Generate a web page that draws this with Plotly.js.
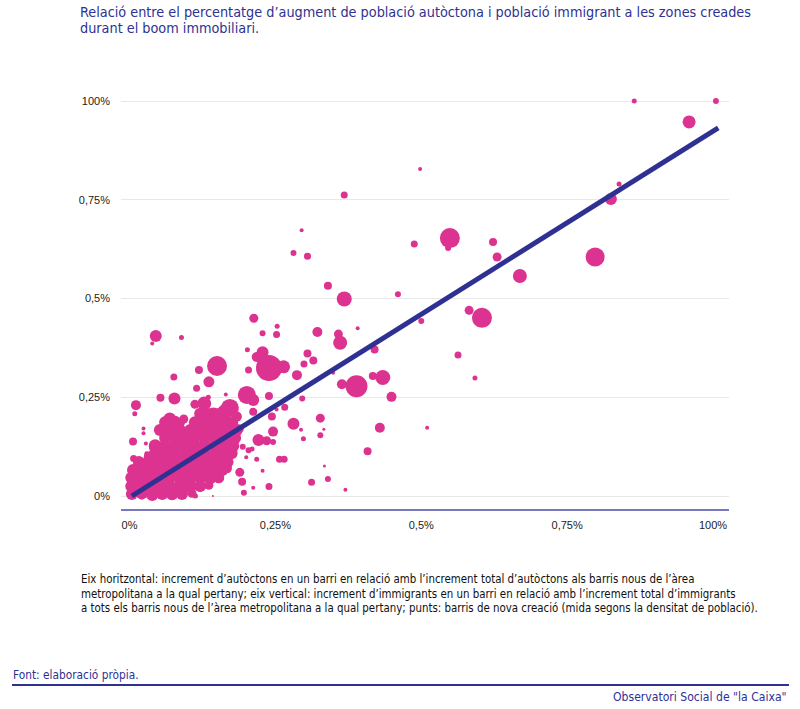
<!DOCTYPE html>
<html>
<head>
<meta charset="utf-8">
<script src="https://cdn.plot.ly/plotly-3.0.1.min.js"></script>
<style>
  html, body { margin: 0; padding: 0; background: #ffffff; }
  #chart { width: 800px; height: 709px; }
</style>
</head>
<body>
<div id="chart"></div>
<script>
// Each row: [increment d'autòctons, increment d'immigrants, densitat de població]

// Barris dispersos, lluny del nucli principal
const barrisDispersos = [
  [0.865, 1.000, 25], [1.005, 1.000, 36], [0.959, 0.947, 169], [0.825, 0.752, 144],
  [0.839, 0.790, 25], [0.498, 0.828, 16], [0.368, 0.762, 49], [0.295, 0.673, 16],
  [0.281, 0.615, 36], [0.305, 0.607, 49], [0.488, 0.638, 49], [0.549, 0.653, 400],
  [0.546, 0.628, 36], [0.623, 0.643, 64], [0.630, 0.605, 81], [0.669, 0.557, 196],
  [0.798, 0.605, 361], [0.340, 0.532, 64], [0.368, 0.499, 225], [0.460, 0.511, 36],
  [0.582, 0.470, 81], [0.604, 0.451, 400], [0.500, 0.443, 36], [0.391, 0.425, 16],
  [0.322, 0.415, 100], [0.358, 0.410, 81], [0.361, 0.388, 196], [0.305, 0.361, 64],
  [0.315, 0.343, 64], [0.299, 0.334, 49], [0.264, 0.327, 169], [0.287, 0.306, 100],
  [0.349, 0.312, 16], [0.420, 0.371, 64], [0.563, 0.357, 49], [0.592, 0.299, 25],
  [0.364, 0.283, 100], [0.389, 0.278, 484], [0.417, 0.304, 64], [0.434, 0.300, 225],
  [0.449, 0.251, 100], [0.296, 0.247, 36], [0.266, 0.225, 49], [0.281, 0.183, 144],
  [0.327, 0.197, 81], [0.327, 0.154, 36], [0.294, 0.168, 16], [0.333, 0.169, 9],
  [0.298, 0.145, 25], [0.429, 0.173, 100], [0.510, 0.173, 16], [0.408, 0.113, 64],
  [0.265, 0.093, 49], [0.257, 0.093, 49], [0.334, 0.076, 9], [0.312, 0.035, 49],
  [0.340, 0.043, 36], [0.370, 0.016, 16]
];

// Barris al voltant del nucli
const barrisPerifèria = [
  [0.213, 0.450, 81], [0.253, 0.430, 25], [0.228, 0.412, 36], [0.252, 0.409, 49],
  [0.202, 0.370, 25], [0.228, 0.364, 144], [0.239, 0.324, 676], [0.218, 0.352, 100],
  [0.204, 0.319, 49], [0.201, 0.256, 324], [0.212, 0.243, 144], [0.239, 0.253, 64],
  [0.165, 0.257, 16], [0.172, 0.223, 324], [0.252, 0.219, 16], [0.244, 0.201, 64],
  [0.045, 0.405, 144], [0.039, 0.386, 16], [0.089, 0.401, 25], [0.150, 0.329, 400],
  [0.119, 0.319, 64], [0.136, 0.289, 121], [0.076, 0.301, 49], [0.115, 0.273, 49],
  [0.053, 0.249, 64], [0.077, 0.247, 144], [0.011, 0.230, 100], [0.009, 0.208, 25],
  [0.128, 0.234, 196], [0.112, 0.232, 81], [0.135, 0.250, 25], [0.129, 0.201, 196],
  [0.069, 0.195, 169], [0.093, 0.195, 81], [0.162, 0.213, 196], [0.184, 0.201, 100],
  [0.212, 0.213, 64], [0.246, 0.163, 100], [0.221, 0.142, 144], [0.235, 0.140, 81],
  [0.246, 0.137, 36], [0.194, 0.125, 36], [0.204, 0.116, 36], [0.210, 0.119, 25],
  [0.175, 0.108, 144], [0.167, 0.070, 100], [0.200, 0.098, 16], [0.218, 0.093, 25],
  [0.228, 0.064, 16], [0.189, 0.060, 81], [0.193, 0.036, 64], [0.212, 0.021, 16],
  [0.239, 0.024, 49], [0.196, 0.008, 36], [0.113, 0.000, 25], [0.143, 0.000, 4],
  [0.024, 0.171, 16], [0.024, 0.159, 16], [0.006, 0.138, 64], [0.028, 0.133, 16],
  [0.038, 0.121, 25], [0.029, 0.108, 16], [0.007, 0.095, 49], [0.189, 0.171, 64],
  [0.104, 0.159, 196], [0.124, 0.175, 225], [0.144, 0.205, 225], [0.084, 0.146, 81],
  [0.075, 0.125, 64], [0.087, 0.184, 81]
];

// Nucli dens de barris amb increments petits
const barrisNucli = [
  [0.004, 0.005, 144], [0.021, 0.006, 144], [0.039, 0.004, 169], [0.056, 0.005, 144],
  [0.073, 0.006, 169], [0.090, 0.005, 144], [0.107, 0.007, 81],
  [0.003, 0.025, 144], [0.018, 0.024, 169], [0.035, 0.026, 169], [0.052, 0.025, 169],
  [0.069, 0.024, 169], [0.087, 0.026, 169], [0.104, 0.025, 169], [0.121, 0.025, 144],
  [0.136, 0.027, 81],
  [0.003, 0.046, 144], [0.018, 0.047, 169], [0.035, 0.045, 169], [0.052, 0.046, 169],
  [0.069, 0.047, 169], [0.087, 0.045, 169], [0.104, 0.046, 169], [0.121, 0.047, 169],
  [0.138, 0.046, 169], [0.153, 0.046, 121],
  [0.006, 0.066, 144], [0.021, 0.067, 169], [0.039, 0.065, 169], [0.056, 0.066, 169],
  [0.073, 0.067, 169], [0.090, 0.065, 169], [0.107, 0.066, 169], [0.124, 0.067, 169],
  [0.141, 0.066, 169], [0.159, 0.066, 144],
  [0.016, 0.086, 144], [0.033, 0.087, 169], [0.050, 0.085, 169], [0.067, 0.086, 169],
  [0.084, 0.087, 169], [0.101, 0.085, 169], [0.118, 0.086, 169], [0.135, 0.087, 169],
  [0.152, 0.086, 169], [0.168, 0.086, 144],
  [0.033, 0.100, 100], [0.044, 0.106, 169], [0.061, 0.107, 169], [0.078, 0.105, 169],
  [0.095, 0.106, 169], [0.112, 0.107, 169], [0.129, 0.105, 169], [0.147, 0.106, 169],
  [0.164, 0.106, 169],
  [0.044, 0.127, 169], [0.061, 0.126, 169], [0.078, 0.128, 169], [0.095, 0.127, 169],
  [0.112, 0.126, 169], [0.129, 0.128, 169], [0.147, 0.127, 169], [0.164, 0.126, 169],
  [0.177, 0.127, 169],
  [0.061, 0.147, 144], [0.078, 0.148, 144], [0.095, 0.146, 144], [0.112, 0.147, 144],
  [0.129, 0.148, 144], [0.147, 0.146, 144], [0.164, 0.147, 144], [0.181, 0.147, 144],
  [0.052, 0.167, 144], [0.069, 0.168, 144], [0.087, 0.166, 144], [0.104, 0.167, 144],
  [0.121, 0.168, 144], [0.138, 0.166, 144], [0.155, 0.167, 144], [0.172, 0.168, 144],
  [0.184, 0.167, 144],
  [0.061, 0.187, 144], [0.078, 0.188, 144], [0.112, 0.187, 144], [0.129, 0.186, 144],
  [0.147, 0.187, 144], [0.164, 0.188, 144], [0.176, 0.187, 144],
  [0.121, 0.208, 144], [0.138, 0.207, 144], [0.155, 0.208, 144]
];

// Recta d'ajust entre tots dos increments
const ajustX = [0.004, 1.009];
const ajustY = [0.000, 0.932];

const tickVals = [0, 0.25, 0.5, 0.75, 1];
const tickText = ['0%', '0,25%', '0,5%', '0,75%', '100%'];

const titol = [
  'Relació entre el percentatge d’augment de població autòctona i població immigrant a les zones creades',
  'durant el boom immobiliari.'
];
const nota = [
  'Eix horitzontal: increment d’autòctons en un barri en relació amb l’increment total d’autòctons als barris nous de l’àrea',
  'metropolitana a la qual pertany; eix vertical: increment d’immigrants en un barri en relació amb l’increment total d’immigrants',
  'a tots els barris nous de l’àrea metropolitana a la qual pertany; punts: barris de nova creació (mida segons la densitat de població).'
];
const font = 'Font: elaboració pròpia.';
const signatura = 'Observatori Social de "la Caixa"';

// ---- drawing ----
const barris = barrisNucli.concat(barrisPerifèria, barrisDispersos);

const W = 800, H = 709;
const M = { l: 121, r: 71, t: 80, b: 200 };
const pw = W - M.l - M.r, ph = H - M.t - M.b;
const toPaperX = x => (x - M.l) / pw;
const toPaperY = y => (H - M.b - y) / ph;

const BLUE = '#2e3192';
const PINK = '#dc3391';
const NARROW = '"Liberation Sans Narrow", "DejaVu Sans Condensed", "Roboto", sans-serif';
const SANS = '"Liberation Sans", Arial, sans-serif';

const traces = [
  {
    type: 'scatter',
    mode: 'markers',
    x: barris.map(r => r[0]),
    y: barris.map(r => r[1]),
    marker: {
      size: barris.map(r => r[2]),
      sizemode: 'area',
      sizeref: 2,
      color: PINK,
      opacity: 1,
      line: { width: 0 }
    },
    hoverinfo: 'skip'
  },
  {
    type: 'scatter',
    mode: 'lines',
    x: ajustX,
    y: ajustY,
    line: { color: BLUE, width: 5 },
    hoverinfo: 'skip'
  }
];

function textLine(text, xPx, yPx, opts) {
  return Object.assign({
    text: text,
    xref: 'paper', yref: 'paper',
    x: toPaperX(xPx), y: toPaperY(yPx),
    xanchor: 'left', yanchor: 'middle',
    showarrow: false,
    font: { family: NARROW, size: 11.4, color: '#111111' }
  }, opts || {});
}

const annotations = [
  textLine(titol[0], 78, 12, { font: { family: NARROW, size: 14.3, color: BLUE } }),
  textLine(titol[1], 78, 28, { font: { family: NARROW, size: 14.3, color: BLUE } }),
  textLine(nota[0], 79, 579),
  textLine(nota[1], 79, 594),
  textLine(nota[2], 79, 608),
  textLine(font, 11, 675, { font: { family: NARROW, size: 11.8, color: BLUE } }),
  textLine(signatura, 789, 697, { xanchor: 'right', font: { family: NARROW, size: 12.1, color: BLUE } })
];

const layout = {
  width: W, height: H,
  margin: M,
  paper_bgcolor: '#ffffff',
  plot_bgcolor: '#ffffff',
  showlegend: false,
  hovermode: false,
  xaxis: {
    range: [-0.0146, 1.0274],
    tickvals: tickVals, ticktext: tickText,
    showgrid: false, zeroline: false,
    showline: true, linecolor: '#7878bc', linewidth: 1.5,
    ticks: '', ticklabelstandoff: 5,
    tickfont: { family: SANS, size: 11, color: '#222222' },
    fixedrange: true
  },
  yaxis: {
    range: [-0.0329, 1.0532],
    tickvals: tickVals, ticktext: tickText,
    showgrid: true, gridcolor: '#e8e8e8', gridwidth: 1,
    zeroline: false, showline: false,
    ticks: '', ticklabelstandoff: 10,
    tickfont: { family: SANS, size: 11, color: '#222222' },
    fixedrange: true
  },
  shapes: [
    {
      type: 'line', xref: 'paper', yref: 'paper',
      x0: toPaperX(12), x1: toPaperX(789),
      y0: toPaperY(685), y1: toPaperY(685),
      line: { color: BLUE, width: 2 }
    }
  ],
  annotations: annotations
};

Plotly.newPlot('chart', traces, layout, { displayModeBar: false, staticPlot: true });
</script>
</body>
</html>
